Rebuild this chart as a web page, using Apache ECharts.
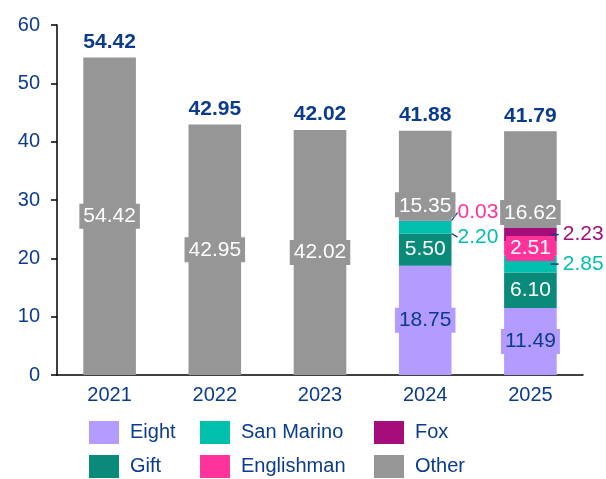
<!DOCTYPE html>
<html>
<head>
<meta charset="utf-8">
<script src="https://cdn.jsdelivr.net/npm/echarts@6/dist/echarts.min.js"></script>
<style>
  html, body { margin: 0; padding: 0; background: #fff; }
  #chart { width: 606px; height: 479px; }
</style>
</head>
<body>
<div id="chart"></div>
<script>
const years = ["2021", "2022", "2023", "2024", "2025"];
const eight = [null, null, null, 18.75, 11.49];
const gift = [null, null, null, 5.50, 6.10];
const sanMarino = [null, null, null, 2.20, 2.85];
const englishman = [null, null, null, 0.03, 2.51];
const fox = [null, null, null, 0.05, 2.23];
const other = [54.42, 42.95, 42.02, 15.35, 16.62];
const totals = [54.42, 42.95, 42.02, 41.88, 41.79];

const navy = "#0b3b8c";
const font = "Liberation Sans, Arial, sans-serif";
const colors = {
  Eight: "#b39bff",
  Gift: "#0a8a78",
  "San Marino": "#00bfad",
  Englishman: "#ff3399",
  Fox: "#a50d7a",
  Other: "#969696"
};

function boxLabel(bg, color, pos) {
  return {
    show: true,
    position: pos || "inside",
    distance: 3,
    color: color,
    fontSize: 21,
    fontFamily: font,
    backgroundColor: bg,
    padding: [3, 4, 1, 4],
    formatter: (p) => p.value.toFixed(2)
  };
}

// label off to the right, joined by a guide line (2024)
function outLabel(color) {
  return {
    show: true,
    position: "right",
    distance: 6,
    color: color,
    fontSize: 21,
    fontFamily: font,
    formatter: (p) => p.value.toFixed(2)
  };
}

// label off to the right with a short dash in front (2025)
function dashLabel(color) {
  return {
    show: true,
    position: "right",
    distance: -6,
    formatter: (p) => "{d|}{t|" + p.value.toFixed(2) + "}",
    rich: {
      d: { width: 8, height: 1.5, backgroundColor: navy, verticalAlign: "middle" },
      t: { color: color, fontSize: 21, fontFamily: font, padding: [0, 0, 0, 4], verticalAlign: "middle" }
    }
  };
}

const noLabel = { show: false };

function stackSeries(name, values, labelAt, layout, line) {
  return {
    name: name,
    type: "bar",
    stack: "total",
    barWidth: "50%",
    itemStyle: { color: colors[name] },
    labelLine: { show: !!line, length2: 0, lineStyle: { color: navy, width: 1.2 } },
    labelLayout: layout,
    data: values.map((v, i) => ({ value: v, label: labelAt(i) || noLabel })),
    emphasis: { disabled: true }
  };
}

const chart = echarts.init(document.getElementById("chart"));
chart.setOption({
  animation: false,
  grid: { left: 57, right: 23, top: 25, bottom: 104 },
  legend: [
    ["Eight", "Gift"], ["San Marino", "Englishman"], ["Fox", "Other"]
  ].map((d, k) => ({
    data: d,
    orient: "vertical",
    left: [89, 200, 374][k],
    top: 421,
    padding: 0,
    icon: "rect",
    itemWidth: 30,
    itemHeight: 23,
    itemGap: 11,
    selectedMode: false,
    textStyle: { color: navy, fontSize: 20, fontFamily: font, padding: [0, 0, 0, 6] }
  })),
  xAxis: {
    type: "category",
    data: years,
    axisLine: { lineStyle: { color: "#000", width: 1.5 } },
    axisTick: { show: false },
    axisLabel: { color: navy, fontSize: 20, fontFamily: font, margin: 10 }
  },
  yAxis: {
    type: "value",
    min: 0,
    max: 60,
    interval: 10,
    splitLine: { show: false },
    axisLine: { show: true, lineStyle: { color: "#000", width: 1.5 } },
    axisTick: { show: true, length: 6, lineStyle: { color: "#000", width: 1.5 } },
    axisLabel: { color: navy, fontSize: 20, fontFamily: font, margin: 17 }
  },
  series: [
    stackSeries("Eight", eight, (i) => i >= 3 ? boxLabel(colors.Eight, navy) : null),
    stackSeries("Gift", gift, (i) => i >= 3 ? boxLabel(colors.Gift, "#fff") : null),
    stackSeries("San Marino", sanMarino,
      (i) => i === 3 ? outLabel(colors["San Marino"]) : i === 4 ? dashLabel(colors["San Marino"]) : null,
      (p) => p.dataIndex === 3 ? { dy: 10 } : {}, true),
    stackSeries("Englishman", englishman,
      (i) => i === 3 ? outLabel(colors.Englishman) : i === 4 ? boxLabel(colors.Englishman, "#fff") : null,
      (p) => p.dataIndex === 3 ? { dy: -8 } : {}, true),
    stackSeries("Fox", fox, (i) => i === 4 ? dashLabel(colors.Fox) : null),
    stackSeries("Other", other,
      (i) => i >= 3 ? boxLabel(colors.Other, "#fff", "insideBottom") : boxLabel(colors.Other, "#fff")),
    {
      name: "Total",
      type: "bar",
      barWidth: "50%",
      barGap: "-100%",
      z: 1,
      itemStyle: { color: "rgba(0,0,0,0)" },
      label: {
        show: true,
        position: "top",
        distance: 5,
        color: navy,
        fontSize: 21,
        fontWeight: "bold",
        fontFamily: font,
        formatter: (p) => p.value.toFixed(2)
      },
      data: totals,
      emphasis: { disabled: true }
    }
  ]
});
</script>
</body>
</html>
